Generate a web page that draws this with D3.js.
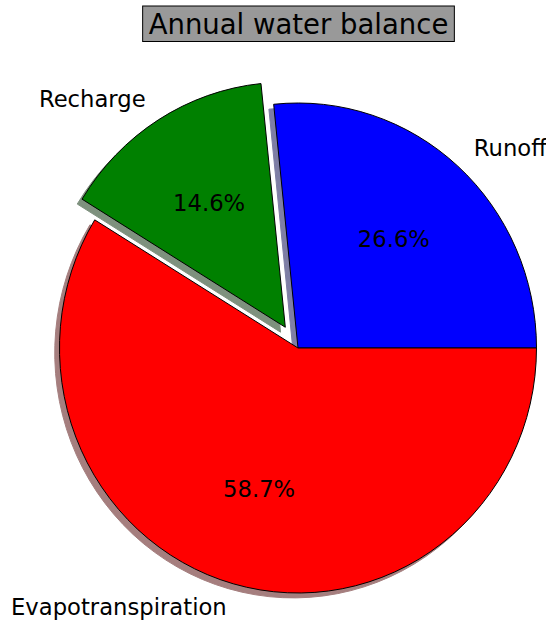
<!DOCTYPE html>
<html>
<head>
<meta charset="utf-8">
<script src="https://cdn.jsdelivr.net/npm/d3@7"></script>
<style>
  html, body { margin: 0; padding: 0; background: #ffffff; }
  svg { display: block; font-family: "DejaVu Sans", sans-serif; }
</style>
</head>
<body>
<svg id="chart" width="546" height="620"></svg>
<script>
// Water balance components (percent of annual precipitation)
const categories = ["Runoff", "Recharge", "Evapotranspiration"];
const values = [26.6, 14.6, 58.7];
const colors = ["#0000ff", "#008000", "#ff0000"];
const explode = [0, 0.1, 0];
const title = "Annual water balance";

const svg = d3.select("#chart");
const cx = 298, cy = 348;
const rx = 238.5, ry = 245;           // pie radius (x and y)
const sx = rx / ry;                    // horizontal stretch applied to the arcs

// Wedges run counter-clockwise from the 3 o'clock position
const pie = d3.pie()
  .sort(null)
  .startAngle(Math.PI / 2)
  .endAngle(Math.PI / 2 - 2 * Math.PI);
const arcs = pie(values);

const arc = d3.arc().innerRadius(0).outerRadius(ry);

function midAngle(d) { return (d.startAngle + d.endAngle) / 2; }
// unit offset along the wedge bisector (screen coords)
function dir(d) {
  const a = midAngle(d);
  return [Math.sin(a), -Math.cos(a)];
}
function wedgeCenter(d, i) {
  const [ux, uy] = dir(d);
  return [cx + explode[i] * ux * rx, cy + explode[i] * uy * ry];
}

const shade = c => {
  const k = d3.rgb(c);
  return d3.rgb(k.r * 0.3, k.g * 0.3, k.b * 0.3).toString();
};

// shadows below all wedges
const shadowG = svg.append("g");
shadowG.selectAll("path")
  .data(arcs)
  .join("path")
  .attr("transform", (d, i) => {
    const [x, y] = wedgeCenter(d, i);
    return `translate(${x - 0.02 * rx},${y + 0.02 * ry}) scale(${sx},1)`;
  })
  .attr("d", arc)
  .attr("fill", (d, i) => shade(colors[i]))
  .attr("stroke", (d, i) => shade(colors[i]))
  .attr("stroke-width", 1)
  .attr("vector-effect", "non-scaling-stroke")
  .attr("opacity", 0.5);

// wedges
const wedgeG = svg.append("g");
wedgeG.selectAll("path")
  .data(arcs)
  .join("path")
  .attr("transform", (d, i) => {
    const [x, y] = wedgeCenter(d, i);
    return `translate(${x},${y}) scale(${sx},1)`;
  })
  .attr("d", arc)
  .attr("fill", (d, i) => colors[i])
  .attr("stroke", "#000")
  .attr("stroke-width", 1)
  .attr("stroke-linejoin", "miter")
  .attr("vector-effect", "non-scaling-stroke");

// category labels at 1.1 r
svg.append("g").selectAll("text")
  .data(arcs)
  .join("text")
  .each(function (d, i) {
    const [x0, y0] = wedgeCenter(d, i);
    const [ux, uy] = dir(d);
    const x = x0 + 1.1 * rx * ux, y = y0 + 1.1 * ry * uy;
    d3.select(this)
      .attr("x", x).attr("y", y)
      .attr("text-anchor", ux > 0 ? "start" : "end");
  })
  .attr("dominant-baseline", "central")
  .attr("font-size", 22.7)
  .attr("fill", "#000")
  .text((d, i) => categories[i]);

// percentage labels at 0.6 r
svg.append("g").selectAll("text")
  .data(arcs)
  .join("text")
  .each(function (d, i) {
    const [x0, y0] = wedgeCenter(d, i);
    const [ux, uy] = dir(d);
    d3.select(this)
      .attr("x", x0 + 0.6 * rx * ux)
      .attr("y", y0 + 0.6 * ry * uy);
  })
  .attr("text-anchor", "middle")
  .attr("dominant-baseline", "central")
  .attr("font-size", 22.7)
  .attr("fill", "#000")
  .text((d, i) => values[i].toFixed(1) + "%");

// title in a grey box
const tg = svg.append("g");
const tRect = tg.append("rect");
const tText = tg.append("text")
  .attr("x", 298.5)
  .attr("y", 33.5)
  .attr("text-anchor", "middle")
  .attr("font-size", 27.5)
  .attr("fill", "#000")
  .text(title);
const bb = tText.node().getBBox();
tRect
  .attr("x", 298.5 - bb.width / 2 - 6)
  .attr("y", 6)
  .attr("width", bb.width + 12)
  .attr("height", 35.5)
  .attr("fill", "#999999")
  .attr("stroke", "#000")
  .attr("stroke-width", 1);
</script>
</body>
</html>
